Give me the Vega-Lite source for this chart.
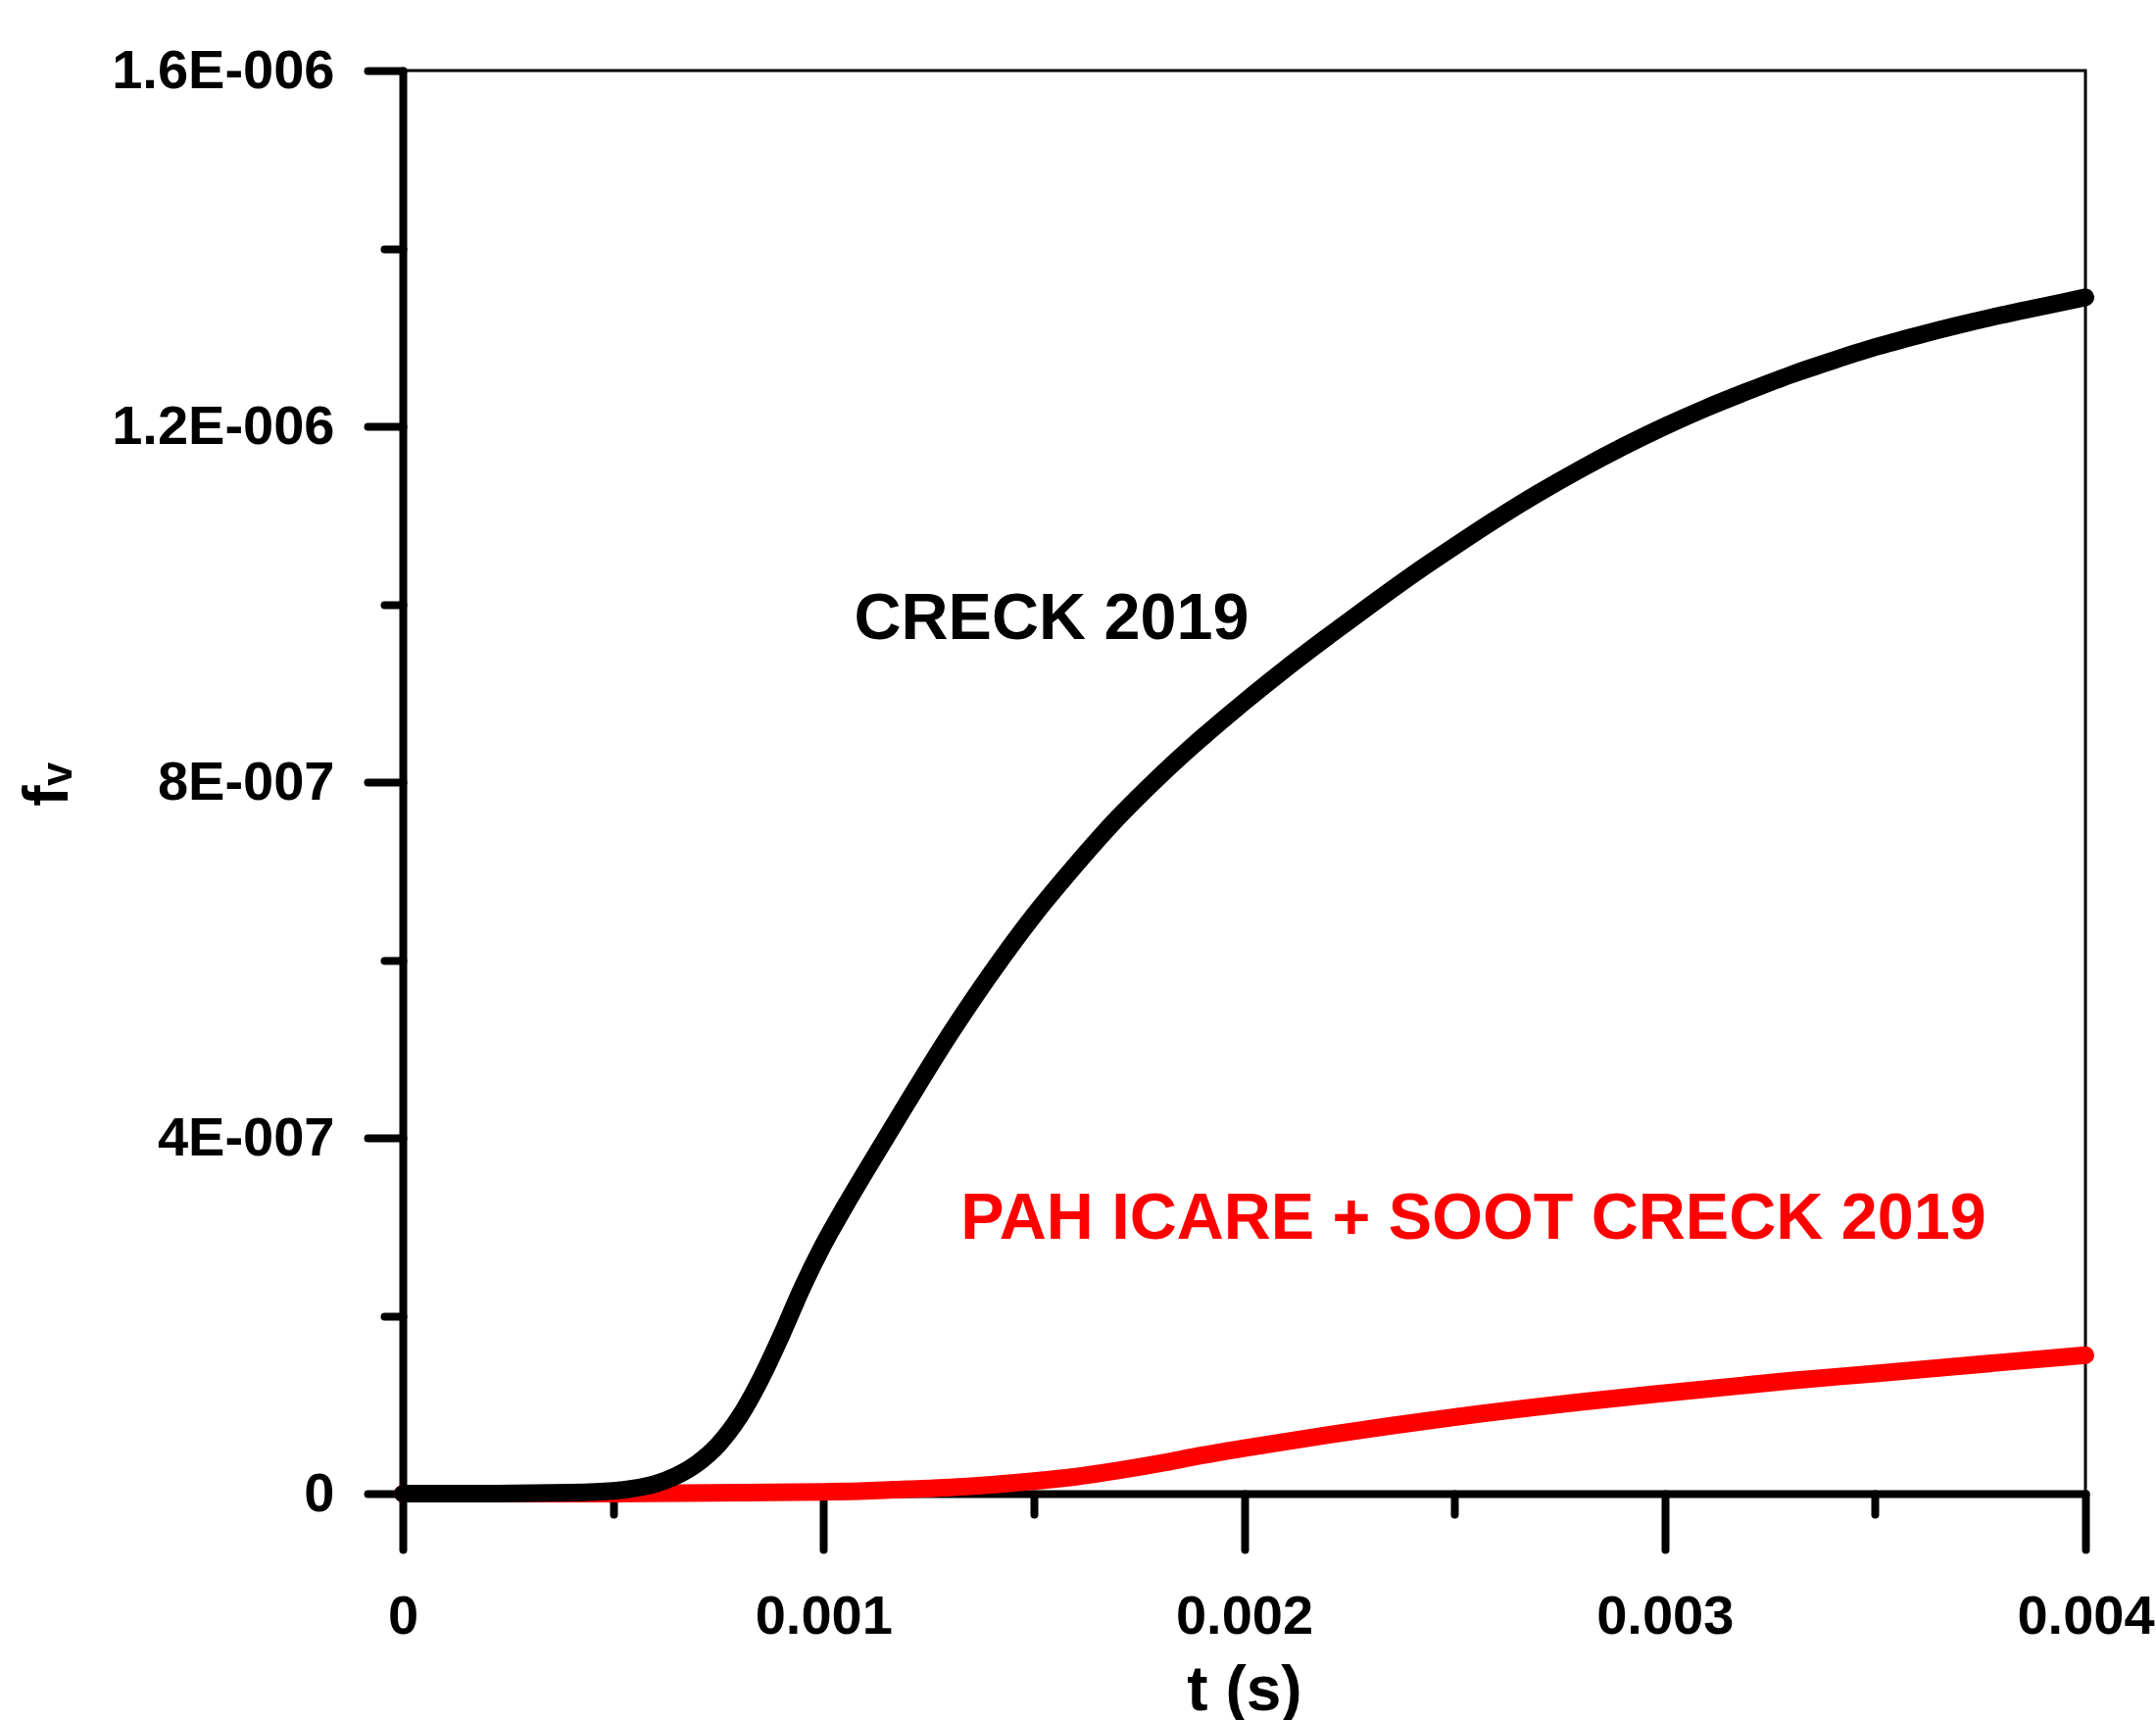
{
  "$schema": "https://vega.github.io/schema/vega-lite/v6.json",
  "autosize": {"type": "none"},
  "width": 1717,
  "height": 1452,
  "padding": {"left": 411, "top": 72, "right": 72, "bottom": 231},
  "background": "white",
  "config": {
    "view": {"stroke": "black", "strokeWidth": 3},
    "font": "Liberation Sans"
  },
  "datasets": {
    "creck": [
      {"t": 0, "fv": 0}, {"t": 0.0002, "fv": 0}, {"t": 0.0004, "fv": 1e-9}, {"t": 0.0005, "fv": 3e-9},
      {"t": 0.00055, "fv": 6e-9}, {"t": 0.0006, "fv": 1.1e-8}, {"t": 0.00065, "fv": 2.0e-8}, {"t": 0.0007, "fv": 3.4e-8},
      {"t": 0.00075, "fv": 5.5e-8}, {"t": 0.0008, "fv": 8.6e-8}, {"t": 0.00085, "fv": 1.28e-7}, {"t": 0.0009, "fv": 1.78e-7},
      {"t": 0.00095, "fv": 2.32e-7}, {"t": 0.001, "fv": 2.8e-7}, {"t": 0.00105, "fv": 3.22e-7}, {"t": 0.0011, "fv": 3.62e-7},
      {"t": 0.0012, "fv": 4.4e-7}, {"t": 0.0013, "fv": 5.16e-7}, {"t": 0.0014, "fv": 5.86e-7}, {"t": 0.0015, "fv": 6.5e-7},
      {"t": 0.0016, "fv": 7.07e-7}, {"t": 0.0017, "fv": 7.6e-7}, {"t": 0.0018, "fv": 8.07e-7}, {"t": 0.0019, "fv": 8.5e-7},
      {"t": 0.002, "fv": 8.9e-7}, {"t": 0.0021, "fv": 9.28e-7}, {"t": 0.0022, "fv": 9.64e-7}, {"t": 0.0023, "fv": 9.99e-7},
      {"t": 0.0024, "fv": 1.033e-6}, {"t": 0.0025, "fv": 1.065e-6}, {"t": 0.0026, "fv": 1.096e-6}, {"t": 0.0027, "fv": 1.125e-6},
      {"t": 0.0028, "fv": 1.152e-6}, {"t": 0.0029, "fv": 1.177e-6}, {"t": 0.003, "fv": 1.2e-6}, {"t": 0.0031, "fv": 1.221e-6},
      {"t": 0.0032, "fv": 1.24e-6}, {"t": 0.0033, "fv": 1.258e-6}, {"t": 0.0034, "fv": 1.274e-6}, {"t": 0.0035, "fv": 1.289e-6},
      {"t": 0.0036, "fv": 1.302e-6}, {"t": 0.0037, "fv": 1.314e-6}, {"t": 0.0038, "fv": 1.325e-6}, {"t": 0.0039, "fv": 1.335e-6},
      {"t": 0.004, "fv": 1.345e-6}
    ],
    "icare": [
      {"t": 0, "fv": 0}, {"t": 0.0005, "fv": 0}, {"t": 0.0008, "fv": 1e-9}, {"t": 0.001, "fv": 2e-9},
      {"t": 0.0011, "fv": 3e-9}, {"t": 0.0012, "fv": 5e-9}, {"t": 0.0013, "fv": 7e-9}, {"t": 0.0014, "fv": 1.0e-8},
      {"t": 0.0015, "fv": 1.4e-8}, {"t": 0.0016, "fv": 1.9e-8}, {"t": 0.0017, "fv": 2.6e-8}, {"t": 0.0018, "fv": 3.4e-8},
      {"t": 0.0019, "fv": 4.3e-8}, {"t": 0.002, "fv": 5.1e-8}, {"t": 0.0022, "fv": 6.6e-8}, {"t": 0.0025, "fv": 8.6e-8},
      {"t": 0.0028, "fv": 1.03e-7}, {"t": 0.003, "fv": 1.13e-7}, {"t": 0.0033, "fv": 1.27e-7}, {"t": 0.0035, "fv": 1.35e-7},
      {"t": 0.0038, "fv": 1.475e-7}, {"t": 0.004, "fv": 1.557e-7}
    ],
    "labels": [
      {"t": 0.0015422, "fv": 9.83e-7, "label": "CRECK 2019"},
      {"t": 0.002545, "fv": 3.085e-7, "label": "PAH ICARE + SOOT CRECK 2019"}
    ]
  },
  "layer": [
    {
      "data": {"name": "icare"},
      "mark": {"type": "line", "color": "#ff0000", "strokeWidth": 18, "strokeCap": "round", "strokeJoin": "round", "interpolate": "monotone"},
      "encoding": {
        "x": {"field": "t", "type": "quantitative",
          "scale": {"domain": [0, 0.004], "nice": false, "zero": false},
          "axis": {
            "orient": "bottom",
            "values": [0, 0.001, 0.002, 0.003, 0.004],
            "labelExpr": "datum.value === 0 ? '0' : format(datum.value, '.3f')",
            "grid": false,
            "domainColor": "black", "domainWidth": 8, "domainCap": "round",
            "tickColor": "black", "tickWidth": 8, "tickSize": 57, "tickCap": "round",
            "labelFont": "Liberation Sans", "labelFontWeight": "bold", "labelFontSize": 56, "labelColor": "black",
            "labelPadding": 41, "labelFlush": false, "labelOverlap": false, "labelBaseline": "top", "labelLimit": 0,
            "title": "t (s)", "titleFont": "Liberation Sans", "titleFontWeight": "bold", "titleFontSize": 64, "titleColor": "black",
            "titleBaseline": "alphabetic", "titleAlign": "center", "titleX": 858.5, "titleY": 220, "titleLimit": 0
          }
        },
        "y": {"field": "fv", "type": "quantitative",
          "scale": {"domain": [0, 1.6e-6], "nice": false, "zero": false},
          "axis": {
            "orient": "left",
            "values": [0, 4e-7, 8e-7, 1.2e-6, 1.6e-6],
            "labelExpr": "round(datum.value*1e7) === 0 ? '0' : round(datum.value*1e7) === 4 ? '4E-007' : round(datum.value*1e7) === 8 ? '8E-007' : round(datum.value*1e7) === 12 ? '1.2E-006' : '1.6E-006'",
            "grid": false,
            "domainColor": "black", "domainWidth": 8, "domainCap": "round",
            "tickColor": "black", "tickWidth": 8, "tickSize": 36, "tickCap": "round",
            "labelFont": "Liberation Sans", "labelFontWeight": "bold", "labelFontSize": 56, "labelColor": "black",
            "labelPadding": 34, "labelFlush": false, "labelOverlap": false, "labelAlign": "right", "labelBaseline": "middle", "labelLimit": 0,
            "title": "fᵥ", "titleFont": "Liberation Sans, DejaVu Sans", "titleFontWeight": "bold", "titleFontSize": 64, "titleColor": "black",
            "titleAngle": 270, "titleBaseline": "alphabetic", "titleAlign": "center", "titleX": -343, "titleY": 728, "titleLimit": 0
          }
        }
      }
    },
    {
      "data": {"name": "creck"},
      "mark": {"type": "line", "color": "#000000", "strokeWidth": 18, "strokeCap": "round", "strokeJoin": "round", "interpolate": "monotone"},
      "encoding": {
        "x": {"field": "t", "type": "quantitative",
          "axis": {
            "orient": "bottom",
            "values": [0.0005, 0.0015, 0.0025, 0.0035],
            "labels": false, "domain": false, "grid": false,
            "tickColor": "black", "tickWidth": 8, "tickSize": 21, "tickCap": "round",
            "title": null
          }
        },
        "y": {"field": "fv", "type": "quantitative",
          "axis": {
            "orient": "left",
            "values": [2e-7, 6e-7, 1e-6, 1.4e-6],
            "labels": false, "domain": false, "grid": false,
            "tickColor": "black", "tickWidth": 8, "tickSize": 19, "tickCap": "round",
            "title": null
          }
        }
      }
    },
    {
      "data": {"name": "labels"},
      "mark": {"type": "text", "font": "Liberation Sans", "fontWeight": "bold", "fontSize": 66.5, "align": "center", "baseline": "middle", "limit": 0},
      "encoding": {
        "x": {"field": "t", "type": "quantitative", "axis": null},
        "y": {"field": "fv", "type": "quantitative", "axis": null},
        "text": {"field": "label", "type": "nominal"},
        "color": {"field": "label", "type": "nominal",
          "scale": {"domain": ["CRECK 2019", "PAH ICARE + SOOT CRECK 2019"], "range": ["#000000", "#ff0000"]},
          "legend": null}
      }
    }
  ],
  "resolve": {"axis": {"x": "independent", "y": "independent"}}
}
